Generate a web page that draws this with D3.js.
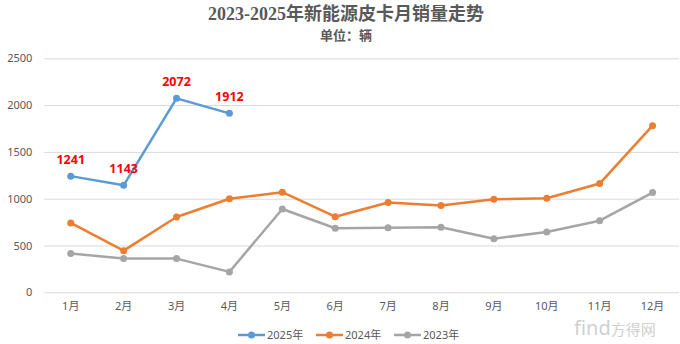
<!DOCTYPE html>
<html><head><meta charset="utf-8">
<script src="https://cdn.jsdelivr.net/npm/d3@7"></script>
<style>body{margin:0;background:#fff}svg{display:block}</style>
</head><body>
<script>
const months = ["1月","2月","3月","4月","5月","6月","7月","8月","9月","10月","11月","12月"];
const s2025 = [1241, 1143, 2072, 1912];
const s2024 = [741, 445, 805, 1000, 1070, 808, 960, 928, 995, 1005, 1162, 1780];
const s2023 = [415, 360, 360, 218, 890, 684, 690, 695, 573, 645, 765, 1066];
const seriesNames = ["2025年","2024年","2023年"];
const seriesColors = ["#5B9BD5","#ED7D31","#A5A5A5"];
const yTicks = [0, 500, 1000, 1500, 2000, 2500];
const labelledSeries = s2025;

const W = 680, H = 344;
const svg = d3.select("body").append("svg").attr("width", W).attr("height", H);
const font = "'Noto Sans','Noto Sans CJK SC',sans-serif";

const x = d3.scaleBand().domain(months).range([44.3, 679]);
const y = d3.scaleLinear().domain([0, 2500]).range([292.3, 58.3]);

// title
svg.append("text").attr("x", 346).attr("y", 20).attr("text-anchor", "middle")
  .attr("font-family", "'Liberation Serif','Noto Sans CJK SC',serif").attr("font-weight", "bold")
  .attr("font-size", 18).attr("fill", "#595959").text("2023-2025年新能源皮卡月销量走势");
svg.append("text").attr("x", 346).attr("y", 39.5).attr("text-anchor", "middle")
  .attr("font-family", "'Noto Sans CJK SC',sans-serif").attr("font-weight", "bold")
  .attr("font-size", 13).attr("fill", "#595959").text("单位：辆");

// grid + y axis
const yAxis = d3.axisLeft(y).tickValues(yTicks).tickFormat(d3.format("d"))
  .tickSize(-(679 - 44.3)).tickPadding(12);
const gy = svg.append("g").attr("transform", "translate(44.3,0)").call(yAxis);
gy.select(".domain").remove();
gy.selectAll(".tick line").attr("stroke", "#d9d9d9").attr("stroke-width", 1);
gy.selectAll(".tick text").attr("font-family", font).attr("font-size", 11).attr("fill", "#595959");

// x axis
const xAxis = d3.axisBottom(x).tickSize(0).tickPadding(10);
const gx = svg.append("g").attr("transform", "translate(0,292.3)").call(xAxis);
gx.select(".domain").remove();
gx.selectAll(".tick text").attr("font-family", font).attr("font-size", 11).attr("fill", "#595959");

const cx = m => x(m) + x.bandwidth() / 2;
const allSeries = [s2025, s2024, s2023];
[2, 1, 0].forEach(i => {
  const data = allSeries[i].map((v, j) => ({m: months[j], v}));
  const line = d3.line().x(d => cx(d.m)).y(d => y(d.v));
  svg.append("path").datum(data).attr("d", line).attr("fill", "none")
    .attr("stroke", seriesColors[i]).attr("stroke-width", 2.5).attr("stroke-linejoin", "round");
  svg.append("g").selectAll("circle").data(data).join("circle")
    .attr("cx", d => cx(d.m)).attr("cy", d => y(d.v)).attr("r", 3.5).attr("fill", seriesColors[i]);
});

// data labels
svg.append("g").selectAll("text").data(labelledSeries.map((v, j) => ({m: months[j], v}))).join("text")
  .attr("x", d => cx(d.m)).attr("y", d => y(d.v) - 12).attr("text-anchor", "middle")
  .attr("font-family", font).attr("font-weight", "bold").attr("font-size", 12.5).attr("fill", "#FF0000")
  .text(d => d.v);

// legend
const legendX = [238, 316, 394];
seriesNames.forEach((n, i) => {
  const g = svg.append("g").attr("transform", `translate(${legendX[i]},335)`);
  g.append("line").attr("x1", 0).attr("x2", 27).attr("stroke", seriesColors[i]).attr("stroke-width", 2.5);
  g.append("circle").attr("cx", 13.5).attr("r", 3.5).attr("fill", seriesColors[i]);
  g.append("text").attr("x", 29).attr("y", 4).attr("font-family", font).attr("font-size", 11)
    .attr("fill", "#595959").text(n);
});

// watermark
const wm = svg.append("text").attr("x", 574).attr("y", 335).attr("fill", "#d0d0d0")
  .attr("font-family", font);
wm.append("tspan").attr("font-size", 20).text("find");
wm.append("tspan").attr("font-size", 15).attr("font-family", "'Noto Sans CJK SC',sans-serif").text("方得网");
</script>
</body></html>
